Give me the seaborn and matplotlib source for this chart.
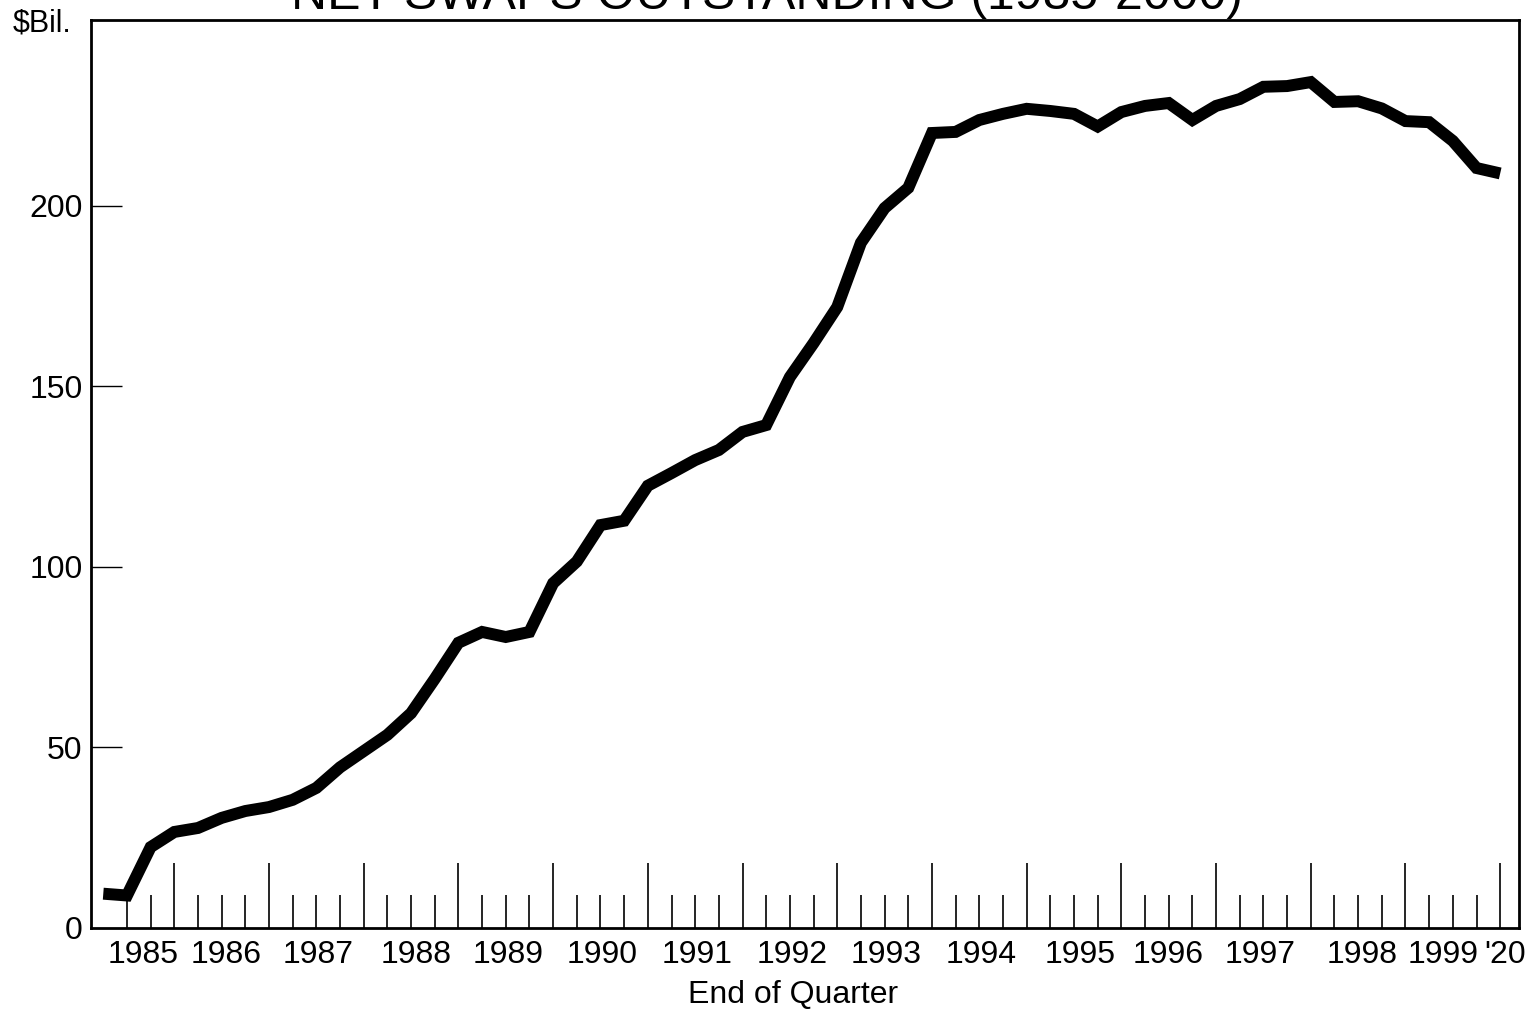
import seaborn as sns
import pandas as pd
import numpy as np
import matplotlib.pyplot as plt
import matplotlib.transforms as mtransforms

sns.set_style("ticks")
plt.rcParams['font.family'] = ['Liberation Sans', 'DejaVu Sans']
plt.rcParams['text.color'] = 'black'

# quarter ends, Mar 1985 .. Dec 1999 (as decimal years)
quarters = np.arange(1985.25, 2000.01, 0.25)

# outstanding, $ billions
outstanding = [9.5, 9.0, 22.4, 26.6, 27.7, 30.5, 32.4, 33.5,
               35.5, 38.8, 44.5, 49.0, 53.5, 59.5, 69.0, 79.0,
               82.0, 80.6, 82.0, 95.5, 101.5, 111.6, 112.8, 122.5,
               126.0, 129.6, 132.4, 137.4, 139.3, 152.6, 162.0, 172.0,
               189.8, 199.4, 205.0, 220.2, 220.5, 223.8, 225.5, 226.9,
               226.3, 225.5, 222.0, 226.0, 227.7, 228.5, 223.8, 227.7,
               229.6, 233.0, 233.2, 234.3, 228.8, 229.0, 227.0, 223.5,
               223.2, 218.0, 210.5, 209.0]

year_labels = ["1985", "1986", "1987", "1988", "1989", "1990", "1991", "1992",
               "1993", "1994", "1995", "1996", "1997", "1998", "1999", "'20"]
year_label_pos = [1985.67, 1986.55, 1987.52, 1988.55, 1989.53, 1990.52, 1991.52,
                  1992.52, 1993.52, 1994.52, 1995.56, 1996.49, 1997.47, 1998.54,
                  1999.40, 2000.05]
y_ticks = [0, 50, 100, 150, 200]

df = pd.DataFrame({"quarter": quarters, "outstanding": outstanding})

fig = plt.figure(figsize=(15.34, 10.10), dpi=100)
ax = fig.add_axes([0.0593, 0.0812, 0.931, 0.899])

sns.lineplot(data=df, x="quarter", y="outstanding", ax=ax, color="black",
             linewidth=8.6, solid_joinstyle="miter", solid_capstyle="butt")

ax.set_xlim(1985.12, 2000.2)
ax.set_ylim(0, 251.5)

# quarterly tick marks, taller at the year ends
ax.set_xticks(np.arange(1986, 2000.5, 1.0))
ax.set_xticks([q for q in np.arange(1985.5, 2000.0, 0.25) if q % 1 != 0], minor=True)
ax.tick_params(axis="x", which="major", direction="in", length=47, width=1.2,
               labelbottom=False, color="black")
ax.tick_params(axis="x", which="minor", direction="in", length=24, width=1.2,
               color="black")

ax.set_yticks(y_ticks)
ax.set_yticklabels([str(v) for v in y_ticks])
ax.tick_params(axis="y", direction="in", length=22, width=1.0, pad=6,
               labelsize=23, color="black", labelcolor="black")
for t in ax.yaxis.get_major_ticks()[:1]:
    t.tick1line.set_visible(False)

for s in ax.spines.values():
    s.set_visible(True)
    s.set_linewidth(2.0)
    s.set_color("black")

trans = mtransforms.blended_transform_factory(ax.transData, ax.transAxes)
for lab, pos in zip(year_labels, year_label_pos):
    ax.text(pos, -0.013, lab, transform=trans, ha="center", va="top", fontsize=23)

ax.set_xlabel("")
ax.set_ylabel("")
fig.text(0.517, 0.015, "End of Quarter", ha="center", va="center", fontsize=23)
fig.text(0.008, 0.977, "$Bil.", ha="left", va="center", fontsize=22)
fig.text(0.50, 0.991, "NET SWAPS OUTSTANDING (1985-2000)", ha="center",
         va="baseline", fontsize=36)

fig.savefig("out.png", dpi=100)
